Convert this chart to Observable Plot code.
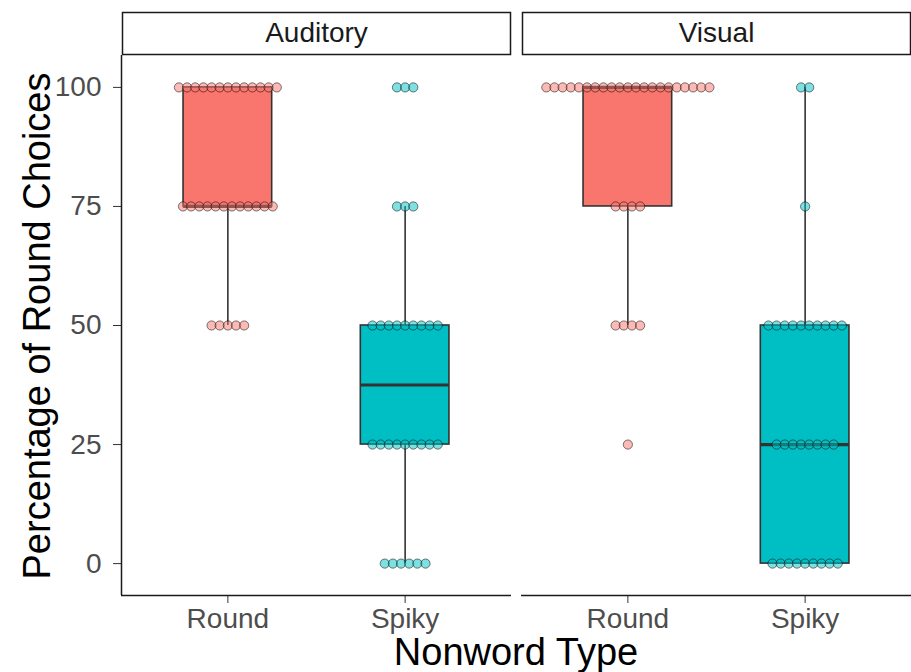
<!DOCTYPE html>
<html><head><meta charset="utf-8">
<script src="https://cdn.jsdelivr.net/npm/d3@7"></script>
<script src="https://cdn.jsdelivr.net/npm/@observablehq/plot@0.6"></script>
<style>
html,body{margin:0;padding:0;background:#fff;}
#chart{font-family:"Liberation Sans",Arial,sans-serif;}
</style>
</head><body><div id="chart"></div><script>
// ---- data ----
const modalities = ["Auditory", "Visual"];
const nonwordTypes = ["Round", "Spiky"];
const scoreLevels = [0, 25, 50, 75, 100];
// number of participants at each score level (0,25,50,75,100)
const auditoryRoundCounts = [0, 0, 5, 12, 13];
const auditorySpikyCounts = [6, 9, 9, 3, 3];
const visualRoundCounts = [0, 1, 4, 4, 21];
const visualSpikyCounts = [9, 8, 10, 1, 2];
const yTicks = [0, 25, 50, 75, 100];
const typeColors = ["#F8766D", "#00BFC4"];

// ---- build observations ----
const countTable = {
  Auditory: {Round: auditoryRoundCounts, Spiky: auditorySpikyCounts},
  Visual: {Round: visualRoundCounts, Spiky: visualSpikyCounts}
};
const stackStep = 0.046; // dotplot stacking step (x units)
const obs = [];
for (const m of modalities) {
  nonwordTypes.forEach((t, i) => {
    countTable[m][t].forEach((n, j) => {
      for (let k = 0; k < n; k++) {
        obs.push({modality: m, type: t, pos: i + 1, score: scoreLevels[j],
                  xs: i + 1 + (k - (n - 1) / 2) * stackStep});
      }
    });
  });
}
// box statistics (ggplot style, type-7 quantiles, 1.5 IQR whiskers)
const summary = [];
for (const m of modalities) {
  nonwordTypes.forEach((t, i) => {
    const v = obs.filter(d => d.modality === m && d.type === t).map(d => d.score).sort(d3.ascending);
    const q1 = d3.quantile(v, 0.25), q3 = d3.quantile(v, 0.75), med = d3.quantile(v, 0.5);
    const iqr = q3 - q1;
    const lo = d3.min(v.filter(x => x >= q1 - 1.5 * iqr));
    const hi = d3.max(v.filter(x => x <= q3 + 1.5 * iqr));
    summary.push({modality: m, type: t, pos: i + 1, q1, q3, med, lo, hi});
  });
}

const xDomain = [0.4, 2.6];
const yDomain = [-6.7, 106.7];
const boxHalf = 0.25;
const ink = "#333333";

const chart = Plot.plot({
  width: 911,
  height: 672,
  marginLeft: 121,
  marginRight: 0,
  marginTop: 55,
  marginBottom: 77,
  style: {fontFamily: "'Liberation Sans', Arial, sans-serif", background: "white"},
  fx: {domain: modalities, paddingInner: 0.025, paddingOuter: 0, axis: null},
  x: {domain: xDomain, axis: null},
  y: {domain: yDomain, axis: null},
  color: {domain: nonwordTypes, range: typeColors},
  marks: [
    // strip boxes
    Plot.frame({insetTop: -43, insetBottom: 541, insetLeft: 1, insetRight: 1, stroke: "#1a1a1a", strokeWidth: 1.5, fill: "white"}),
    Plot.axisFx({anchor: "top", tickSize: 0, tickPadding: 14, fontSize: 28, label: null, fill: "#1a1a1a"}),
    // axes
    Plot.axisY({ticks: yTicks, tickSize: 8, tickPadding: 12, fontSize: 28, label: null, stroke: ink, fill: "#4d4d4d"}),
    Plot.axisX({ticks: [1, 2], tickFormat: i => nonwordTypes[i - 1], tickSize: 8, tickPadding: 5, fontSize: 28, label: null, stroke: ink, fill: "#4d4d4d"}),
    Plot.ruleY([yDomain[0]], {stroke: "#1a1a1a", strokeWidth: 1.5}),
    Plot.ruleX([{modality: "Auditory"}], {x: () => xDomain[0], fx: "modality", stroke: "#1a1a1a", strokeWidth: 1.5}),
    // boxplots
    Plot.ruleX(summary, {x: "pos", y1: "lo", y2: "hi", fx: "modality", stroke: ink, strokeWidth: 1.6}),
    Plot.rect(summary, {x1: d => d.pos - boxHalf, x2: d => d.pos + boxHalf, y1: "q1", y2: "q3", fx: "modality", fill: "type", stroke: ink, strokeWidth: 1.6}),
    Plot.ruleY(summary, {y: "med", x1: d => d.pos - boxHalf, x2: d => d.pos + boxHalf, fx: "modality", stroke: ink, strokeWidth: 3.2}),
    // dotplot
    Plot.dot(obs, {x: "xs", y: "score", fx: "modality", r: 4.6, fill: "type", fillOpacity: 0.5, stroke: "black", strokeOpacity: 0.5, strokeWidth: 1})
  ]
});
document.getElementById("chart").appendChild(chart);

// axis titles
const svg = d3.select(chart.tagName.toLowerCase() === "svg" ? chart : chart.querySelector("svg"));
svg.append("text")
  .attr("x", 516).attr("y", 665)
  .attr("text-anchor", "middle")
  .attr("font-size", 38).attr("fill", "black")
  .text("Nonword Type");
svg.append("text")
  .attr("transform", "translate(50,326) rotate(-90)")
  .attr("text-anchor", "middle")
  .attr("font-size", 38).attr("fill", "black")
  .text("Percentage of Round Choices");
</script></body></html>
